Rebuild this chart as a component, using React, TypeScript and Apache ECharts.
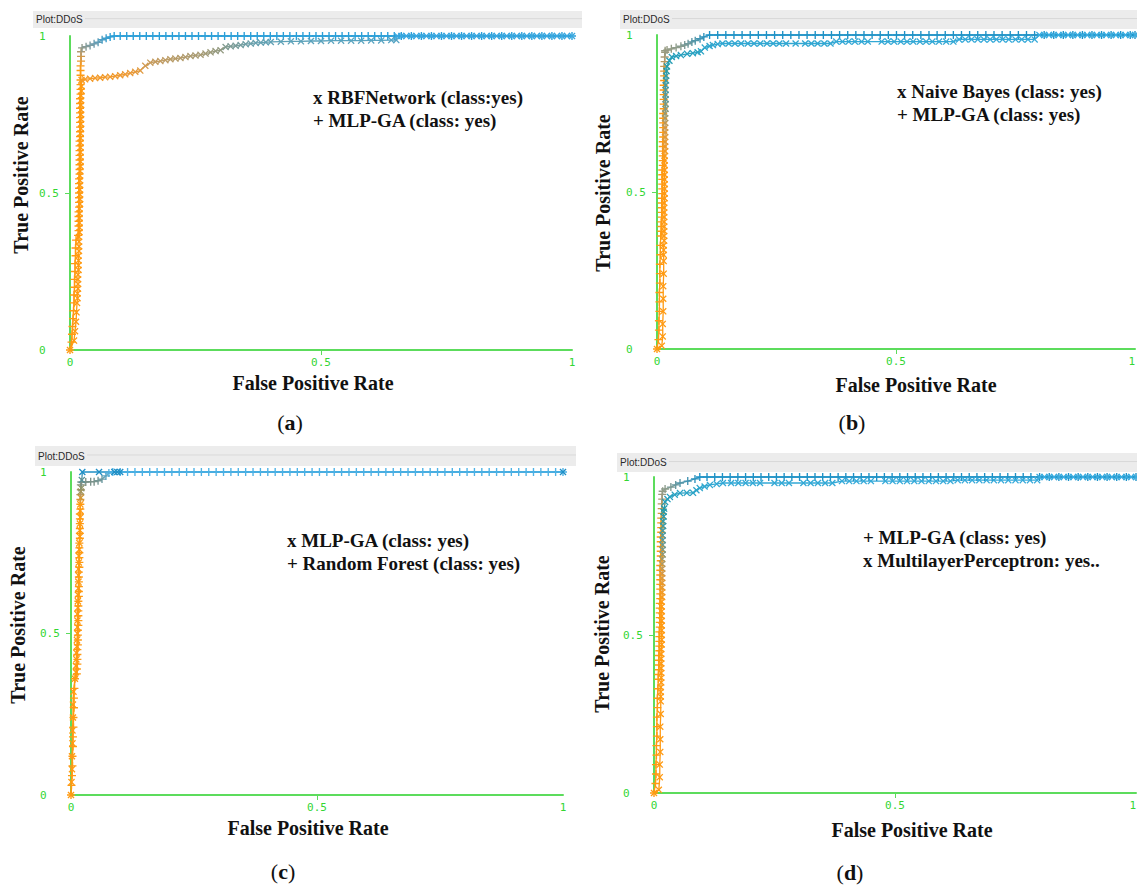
import React, { useEffect, useRef } from "react";
import * as echarts from "echarts";

type Pt = [number, number];

// ---------- data ----------
const AXIS_TICKS = [0, 0.5];
const PLOT_TITLE = "Plot:DDoS";
const X_TITLE = "False Positive Rate";
const Y_TITLE = "True Positive Rate";
const CAPTIONS = ["a", "b", "c", "d"];
const LEGENDS = [
  ["x RBFNetwork (class:yes)", "+ MLP-GA (class: yes)"],
  ["x Naive Bayes (class: yes)", "+ MLP-GA (class: yes)"],
  ["x MLP-GA (class: yes)", "+ Random Forest (class: yes)"],
  ["+ MLP-GA (class: yes)", "x MultilayerPerceptron: yes.."],
];

// (a) MLP-GA vs RBFNetwork
const aMlpGaRise: Pt[] = [
  [0, 0], [0.003, 0.025], [0.004, 0.05], [0.005, 0.075], [0.006, 0.1], [0.007, 0.125], [0.008, 0.15],
  [0.008, 0.175], [0.009, 0.2], [0.009, 0.225], [0.01, 0.25], [0.01, 0.275], [0.011, 0.3], [0.011, 0.325],
  [0.012, 0.35], [0.016, 0.365], [0.017, 0.38], [0.017, 0.395], [0.017, 0.41], [0.017, 0.425], [0.017, 0.44],
  [0.018, 0.455], [0.018, 0.47], [0.018, 0.485], [0.018, 0.5], [0.018, 0.515], [0.018, 0.53], [0.018, 0.545],
  [0.019, 0.56], [0.019, 0.575], [0.019, 0.59], [0.019, 0.605], [0.019, 0.62], [0.019, 0.635], [0.019, 0.65],
  [0.019, 0.665], [0.02, 0.68], [0.02, 0.695], [0.02, 0.71], [0.02, 0.725], [0.02, 0.74], [0.02, 0.755],
  [0.02, 0.77], [0.02, 0.785], [0.02, 0.8], [0.021, 0.815], [0.021, 0.83], [0.021, 0.845], [0.021, 0.86],
  [0.021, 0.875], [0.021, 0.89], [0.021, 0.905], [0.022, 0.92], [0.022, 0.935], [0.022, 0.95],
  [0.024, 0.962], [0.032, 0.966], [0.04, 0.97], [0.048, 0.975], [0.056, 0.98], [0.064, 0.988],
  [0.072, 0.993], [0.08, 0.997], [0.088, 1],
];
const aMlpGaTopFpr = [
  0.1, 0.113, 0.126, 0.139, 0.152, 0.165, 0.178, 0.191, 0.204, 0.217, 0.23, 0.243, 0.256, 0.269, 0.282,
  0.295, 0.308, 0.321, 0.334, 0.347, 0.36, 0.373, 0.386, 0.399, 0.412, 0.425, 0.438, 0.451, 0.464, 0.477,
  0.49, 0.503, 0.516, 0.529, 0.542, 0.555, 0.568, 0.581, 0.594, 0.607, 0.62, 0.633, 0.646, 0.66, 0.68, 0.7,
  0.72, 0.74, 0.76, 0.78, 0.8, 0.82, 0.84, 0.86, 0.88, 0.9, 0.92, 0.94, 0.96, 0.98, 1,
];
const aRbfRise: Pt[] = [
  [0, 0], [0.008, 0.03], [0.01, 0.06], [0.012, 0.09], [0.013, 0.12], [0.014, 0.15], [0.015, 0.165],
  [0.015, 0.18], [0.016, 0.195], [0.016, 0.21], [0.016, 0.225], [0.016, 0.24], [0.017, 0.255], [0.017, 0.27],
  [0.017, 0.285], [0.017, 0.3], [0.018, 0.315], [0.018, 0.33], [0.018, 0.345], [0.018, 0.36], [0.019, 0.375],
  [0.019, 0.39], [0.019, 0.405], [0.019, 0.42], [0.019, 0.435], [0.019, 0.45], [0.02, 0.465], [0.02, 0.48],
  [0.02, 0.495], [0.02, 0.51], [0.02, 0.525], [0.02, 0.54], [0.02, 0.555], [0.02, 0.57], [0.021, 0.585],
  [0.021, 0.6], [0.021, 0.615], [0.021, 0.63], [0.021, 0.645], [0.021, 0.66], [0.021, 0.675], [0.021, 0.69],
  [0.022, 0.705], [0.022, 0.72], [0.022, 0.735], [0.022, 0.75], [0.022, 0.765], [0.022, 0.78], [0.022, 0.795],
  [0.022, 0.81], [0.023, 0.825], [0.023, 0.84], [0.023, 0.86], [0.03, 0.862], [0.04, 0.864], [0.05, 0.866],
  [0.06, 0.867], [0.07, 0.869], [0.08, 0.87], [0.09, 0.872], [0.1, 0.875], [0.11, 0.878], [0.12, 0.882],
  [0.13, 0.886], [0.14, 0.89], [0.15, 0.905], [0.16, 0.915], [0.17, 0.918], [0.18, 0.92], [0.19, 0.923],
  [0.2, 0.926], [0.21, 0.928], [0.22, 0.93], [0.23, 0.933], [0.24, 0.936], [0.25, 0.938], [0.26, 0.94],
  [0.27, 0.944], [0.28, 0.948], [0.29, 0.952], [0.3, 0.955], [0.31, 0.965], [0.32, 0.967], [0.33, 0.969],
  [0.34, 0.971], [0.35, 0.974], [0.36, 0.976], [0.37, 0.978], [0.38, 0.979], [0.39, 0.98], [0.4, 0.981],
  [0.42, 0.982], [0.44, 0.983], [0.46, 0.983], [0.48, 0.984], [0.5, 0.984], [0.52, 0.985], [0.54, 0.985],
  [0.56, 0.985], [0.58, 0.985], [0.6, 0.986], [0.62, 0.986], [0.64, 0.987], [0.65, 0.987], [0.652, 1],
];
const aRbfTopFpr = [
  0.66, 0.67, 0.68, 0.69, 0.7, 0.71, 0.72, 0.73, 0.74, 0.75, 0.76, 0.77, 0.78, 0.79, 0.8, 0.81, 0.82, 0.83,
  0.84, 0.85, 0.86, 0.87, 0.88, 0.89, 0.9, 0.91, 0.92, 0.93, 0.94, 0.95, 0.96, 0.97, 0.98, 0.99, 1,
];

// (b) MLP-GA vs Naive Bayes
const bMlpGaRise: Pt[] = [
  [0, 0], [0.003, 0.03], [0.004, 0.06], [0.004, 0.09], [0.005, 0.12], [0.005, 0.15], [0.005, 0.18],
  [0.006, 0.21], [0.006, 0.24], [0.006, 0.27], [0.007, 0.3], [0.007, 0.33], [0.008, 0.36], [0.009, 0.375],
  [0.009, 0.39], [0.009, 0.405], [0.01, 0.42], [0.01, 0.435], [0.01, 0.45], [0.01, 0.465], [0.01, 0.48],
  [0.011, 0.495], [0.011, 0.51], [0.011, 0.525], [0.011, 0.54], [0.011, 0.555], [0.011, 0.57], [0.012, 0.585],
  [0.012, 0.6], [0.012, 0.615], [0.012, 0.63], [0.012, 0.645], [0.012, 0.66], [0.013, 0.675], [0.013, 0.69],
  [0.013, 0.705], [0.013, 0.72], [0.013, 0.735], [0.013, 0.75], [0.014, 0.765], [0.014, 0.78], [0.014, 0.795],
  [0.014, 0.81], [0.014, 0.825], [0.014, 0.84], [0.015, 0.855], [0.015, 0.87], [0.015, 0.885], [0.015, 0.9],
  [0.016, 0.915], [0.016, 0.93], [0.017, 0.945], [0.017, 0.95], [0.021, 0.952], [0.03, 0.956], [0.04, 0.96],
  [0.05, 0.964], [0.058, 0.968], [0.065, 0.972], [0.073, 0.978], [0.08, 0.982], [0.09, 0.988],
  [0.098, 0.994], [0.11, 1],
];
const bMlpGaTopFpr = [
  0.127, 0.144, 0.161, 0.178, 0.195, 0.212, 0.229, 0.246, 0.263, 0.28, 0.297, 0.314, 0.331, 0.348, 0.365,
  0.382, 0.399, 0.416, 0.433, 0.45, 0.467, 0.484, 0.501, 0.518, 0.535, 0.552, 0.569, 0.586, 0.603, 0.62,
  0.637, 0.654, 0.671, 0.688, 0.705, 0.722, 0.739, 0.756, 0.773, 0.79, 0.81, 0.83, 0.85, 0.87, 0.89, 0.91,
  0.93, 0.95, 0.97, 0.99, 1,
];
const bNaiveBayesRoc: Pt[] = [
  [0, 0], [0.01, 0.01], [0.012, 0.04], [0.012, 0.08], [0.013, 0.12], [0.013, 0.16], [0.013, 0.2],
  [0.014, 0.24], [0.014, 0.28], [0.014, 0.3], [0.014, 0.315], [0.014, 0.33], [0.015, 0.345], [0.015, 0.36],
  [0.015, 0.375], [0.015, 0.39], [0.015, 0.405], [0.015, 0.42], [0.015, 0.435], [0.015, 0.45], [0.015, 0.465],
  [0.016, 0.48], [0.016, 0.495], [0.016, 0.51], [0.016, 0.525], [0.016, 0.54], [0.016, 0.555], [0.016, 0.57],
  [0.016, 0.585], [0.016, 0.6], [0.016, 0.615], [0.017, 0.63], [0.017, 0.645], [0.017, 0.66], [0.017, 0.675],
  [0.017, 0.69], [0.017, 0.705], [0.017, 0.72], [0.017, 0.735], [0.017, 0.75], [0.018, 0.765], [0.018, 0.78],
  [0.018, 0.795], [0.018, 0.81], [0.018, 0.825], [0.018, 0.84], [0.019, 0.855], [0.019, 0.87], [0.02, 0.885],
  [0.021, 0.9], [0.026, 0.918], [0.031, 0.93], [0.04, 0.933], [0.05, 0.936], [0.063, 0.94], [0.075, 0.942],
  [0.085, 0.945], [0.092, 0.948], [0.1, 0.96], [0.11, 0.965], [0.117, 0.968], [0.127, 0.971], [0.137, 0.973],
  [0.15, 0.973], [0.163, 0.973], [0.176, 0.973], [0.19, 0.973], [0.203, 0.973], [0.216, 0.973],
  [0.23, 0.973], [0.243, 0.973], [0.256, 0.973], [0.27, 0.973], [0.29, 0.973], [0.31, 0.973],
  [0.323, 0.973], [0.336, 0.973], [0.35, 0.973], [0.363, 0.973], [0.375, 0.979], [0.388, 0.979],
  [0.401, 0.979], [0.414, 0.979], [0.428, 0.979], [0.441, 0.979], [0.47, 0.979], [0.483, 0.979],
  [0.496, 0.979], [0.51, 0.979], [0.523, 0.979], [0.536, 0.979], [0.55, 0.979], [0.563, 0.979],
  [0.576, 0.979], [0.59, 0.979], [0.605, 0.979], [0.62, 0.979], [0.632, 0.986], [0.645, 0.986],
  [0.658, 0.986], [0.671, 0.986], [0.684, 0.986], [0.697, 0.986], [0.71, 0.986], [0.723, 0.986],
  [0.736, 0.986], [0.75, 0.986], [0.763, 0.986], [0.776, 0.986], [0.79, 0.986], [0.8, 1], [0.81, 1],
  [0.82, 1], [0.83, 1], [0.84, 1], [0.85, 1], [0.86, 1], [0.87, 1], [0.88, 1], [0.89, 1], [0.9, 1],
  [0.91, 1], [0.92, 1], [0.93, 1], [0.94, 1], [0.95, 1], [0.96, 1], [0.97, 1], [0.98, 1], [0.99, 1], [1, 1],
];

// (c) Random Forest vs MLP-GA
const cRandomForestRise: Pt[] = [
  [0, 0], [0.001, 0.03], [0.002, 0.06], [0.003, 0.09], [0.003, 0.12], [0.004, 0.15], [0.004, 0.18],
  [0.005, 0.21], [0.005, 0.24], [0.006, 0.27], [0.006, 0.3], [0.007, 0.33], [0.008, 0.36], [0.012, 0.375],
  [0.012, 0.39], [0.013, 0.405], [0.013, 0.42], [0.013, 0.435], [0.013, 0.45], [0.014, 0.465], [0.014, 0.48],
  [0.014, 0.495], [0.014, 0.51], [0.015, 0.525], [0.015, 0.54], [0.015, 0.555], [0.015, 0.57], [0.015, 0.585],
  [0.015, 0.6], [0.016, 0.615], [0.016, 0.63], [0.016, 0.645], [0.016, 0.66], [0.016, 0.675], [0.016, 0.69],
  [0.017, 0.705], [0.017, 0.72], [0.017, 0.735], [0.017, 0.75], [0.017, 0.765], [0.017, 0.78], [0.018, 0.795],
  [0.018, 0.81], [0.018, 0.825], [0.018, 0.84], [0.018, 0.855], [0.018, 0.87], [0.019, 0.885], [0.019, 0.9],
  [0.019, 0.915], [0.019, 0.93], [0.02, 0.945], [0.02, 0.96], [0.021, 0.969], [0.03, 0.969], [0.04, 0.97],
  [0.047, 0.97], [0.055, 0.973], [0.063, 0.978], [0.071, 0.988], [0.077, 0.997], [0.085, 1],
];
const cRandomForestTopFpr = [
  0.1, 0.115, 0.13, 0.145, 0.16, 0.175, 0.19, 0.205, 0.22, 0.235, 0.25, 0.265, 0.28, 0.295, 0.31, 0.325,
  0.34, 0.355, 0.37, 0.385, 0.4, 0.415, 0.43, 0.445, 0.46, 0.475, 0.49, 0.505, 0.52, 0.535, 0.55, 0.565,
  0.58, 0.595, 0.61, 0.625, 0.64, 0.655, 0.67, 0.685, 0.7, 0.715, 0.73, 0.745, 0.76, 0.775, 0.79, 0.805,
  0.82, 0.835, 0.85, 0.865, 0.88, 0.895, 0.91, 0.925, 0.94, 0.955, 0.97, 0.985, 1,
];
const cMlpGaRoc: Pt[] = [
  [0, 0], [0.001, 0.04], [0.002, 0.08], [0.002, 0.12], [0.003, 0.16], [0.003, 0.2], [0.004, 0.24],
  [0.004, 0.28], [0.005, 0.32], [0.008, 0.36], [0.01, 0.38], [0.01, 0.4], [0.011, 0.42], [0.011, 0.44],
  [0.012, 0.46], [0.012, 0.48], [0.013, 0.5], [0.013, 0.52], [0.013, 0.54], [0.013, 0.56], [0.014, 0.58],
  [0.014, 0.6], [0.014, 0.62], [0.015, 0.64], [0.015, 0.66], [0.015, 0.68], [0.015, 0.7], [0.016, 0.72],
  [0.016, 0.74], [0.017, 0.76], [0.017, 0.78], [0.018, 0.8], [0.018, 0.82], [0.018, 0.84], [0.019, 0.86],
  [0.019, 0.88], [0.019, 0.9], [0.02, 0.92], [0.02, 0.94], [0.021, 0.95], [0.022, 0.975], [0.023, 1],
  [0.057, 1], [0.088, 1], [0.094, 1], [0.1, 1], [1, 1],
];

// (d) MLP-GA vs MultilayerPerceptron
const dMlpGaRise: Pt[] = [
  [0, 0], [0.003, 0.03], [0.004, 0.06], [0.004, 0.09], [0.005, 0.12], [0.005, 0.15], [0.006, 0.18],
  [0.006, 0.21], [0.006, 0.24], [0.007, 0.27], [0.007, 0.3], [0.008, 0.33], [0.009, 0.36], [0.009, 0.375],
  [0.01, 0.39], [0.01, 0.405], [0.01, 0.42], [0.01, 0.435], [0.011, 0.45], [0.011, 0.465], [0.011, 0.48],
  [0.011, 0.495], [0.011, 0.51], [0.012, 0.525], [0.012, 0.54], [0.012, 0.555], [0.012, 0.57], [0.012, 0.585],
  [0.012, 0.6], [0.013, 0.615], [0.013, 0.63], [0.013, 0.645], [0.013, 0.66], [0.013, 0.675], [0.013, 0.69],
  [0.013, 0.705], [0.013, 0.72], [0.014, 0.735], [0.014, 0.75], [0.014, 0.765], [0.014, 0.78], [0.014, 0.795],
  [0.014, 0.81], [0.015, 0.825], [0.015, 0.84], [0.015, 0.855], [0.015, 0.87], [0.016, 0.885], [0.016, 0.9],
  [0.016, 0.915], [0.017, 0.93], [0.017, 0.945], [0.018, 0.955], [0.023, 0.962], [0.035, 0.968],
  [0.045, 0.975], [0.054, 0.981], [0.07, 0.987], [0.085, 0.994], [0.095, 1],
];
const dMlpGaTopFpr = [
  0.11, 0.126, 0.142, 0.158, 0.174, 0.19, 0.206, 0.222, 0.238, 0.254, 0.27, 0.286, 0.302, 0.318, 0.334,
  0.35, 0.366, 0.382, 0.398, 0.414, 0.43, 0.446, 0.462, 0.478, 0.494, 0.51, 0.526, 0.542, 0.558, 0.574,
  0.59, 0.606, 0.622, 0.638, 0.654, 0.67, 0.686, 0.702, 0.718, 0.734, 0.75, 0.766, 0.782, 0.8, 0.82, 0.84,
  0.86, 0.88, 0.9, 0.92, 0.94, 0.96, 0.98, 1,
];
const dMultilayerPerceptronRoc: Pt[] = [
  [0, 0], [0.01, 0.01], [0.012, 0.05], [0.012, 0.09], [0.013, 0.13], [0.013, 0.17], [0.013, 0.21],
  [0.014, 0.25], [0.014, 0.29], [0.014, 0.305], [0.014, 0.32], [0.014, 0.335], [0.015, 0.35], [0.015, 0.365],
  [0.015, 0.38], [0.015, 0.395], [0.015, 0.41], [0.015, 0.425], [0.015, 0.44], [0.015, 0.455], [0.016, 0.47],
  [0.016, 0.485], [0.016, 0.5], [0.016, 0.515], [0.016, 0.53], [0.016, 0.545], [0.016, 0.56], [0.016, 0.575],
  [0.016, 0.59], [0.016, 0.605], [0.017, 0.62], [0.017, 0.635], [0.017, 0.65], [0.017, 0.665], [0.017, 0.68],
  [0.017, 0.695], [0.017, 0.71], [0.017, 0.725], [0.017, 0.74], [0.018, 0.755], [0.018, 0.77], [0.018, 0.785],
  [0.018, 0.8], [0.018, 0.815], [0.018, 0.83], [0.019, 0.845], [0.019, 0.86], [0.02, 0.875], [0.02, 0.89],
  [0.021, 0.9], [0.023, 0.921], [0.028, 0.93], [0.033, 0.937], [0.043, 0.944], [0.054, 0.949], [0.068, 0.95],
  [0.081, 0.95], [0.088, 0.958], [0.095, 0.965], [0.105, 0.97], [0.116, 0.975], [0.13, 0.978],
  [0.143, 0.981], [0.16, 0.981], [0.175, 0.981], [0.19, 0.981], [0.205, 0.981], [0.22, 0.981],
  [0.25, 0.981], [0.265, 0.981], [0.28, 0.981], [0.31, 0.981], [0.325, 0.981], [0.34, 0.981],
  [0.355, 0.981], [0.37, 0.981], [0.39, 0.987], [0.405, 0.987], [0.42, 0.987], [0.435, 0.987],
  [0.45, 0.987], [0.48, 0.987], [0.495, 0.987], [0.51, 0.987], [0.525, 0.987], [0.54, 0.987],
  [0.555, 0.987], [0.57, 0.987], [0.585, 0.987], [0.6, 0.987], [0.615, 0.987], [0.63, 0.99], [0.645, 0.99],
  [0.66, 0.99], [0.675, 0.99], [0.69, 0.99], [0.705, 0.99], [0.72, 0.99], [0.735, 0.99], [0.75, 0.99],
  [0.765, 0.99], [0.78, 0.99], [0.795, 0.99], [0.8, 1], [0.81, 1], [0.82, 1], [0.83, 1], [0.84, 1],
  [0.85, 1], [0.86, 1], [0.87, 1], [0.88, 1], [0.89, 1], [0.9, 1], [0.91, 1], [0.92, 1], [0.93, 1],
  [0.94, 1], [0.95, 1], [0.96, 1], [0.97, 1], [0.98, 1], [0.99, 1], [1, 1],
];

const withTop = (rise: Pt[], topFpr: number[], tpr: number): Pt[] => [
  ...rise,
  ...topFpr.map((f) => [f, tpr] as Pt),
];

// ---------- styles / layout ----------
const PLUS = "path://M4.15,0H5.85V4.15H10V5.85H5.85V10H4.15V5.85H0V4.15H4.15Z";
const CROSS = "path://M0,1.3L1.3,0L5,3.7L8.7,0L10,1.3L6.3,5L10,8.7L8.7,10L5,6.3L1.3,10L0,8.7L3.7,5Z";

const LAYOUT = [
  { grid: { left: 70, top: 36, width: 502, height: 314 }, header: [33, 11, 549, 17], yT: [21, 175], xT: [313, 383], cap: [290, 422], leg: [313, 97], alignMax: false },
  { grid: { left: 657, top: 35, width: 478, height: 314 }, header: [620, 10, 517, 19], yT: [603, 193], xT: [916, 385], cap: [852, 422], leg: [897, 91], alignMax: true },
  { grid: { left: 71, top: 472, width: 492, height: 323 }, header: [35, 446, 541, 20], yT: [18, 625], xT: [308, 828], cap: [283, 871], leg: [287, 540], alignMax: false },
  { grid: { left: 654, top: 477, width: 482, height: 316 }, header: [617, 453, 520, 19], yT: [602, 634], xT: [912, 830], cap: [850, 872], leg: [863, 537], alignMax: true },
];

const ORANGE = "#ff9a12";
const SERIES = [
  { name: "MLP-GA (a)", panel: 0, data: withTop(aMlpGaRise, aMlpGaTopFpr, 1), symbol: PLUS, size: 8, min: 0.9, max: 1, colors: [ORANGE, "#e39a3a", "#b39a6e", "#6f9cae", "#2a9fd8"] },
  { name: "RBFNetwork", panel: 0, data: withTop(aRbfRise, aRbfTopFpr, 1), symbol: CROSS, size: 7, min: 0.84, max: 1, colors: [ORANGE, "#ec9a36", "#c29c62", "#8c9a86", "#3aa8e0"] },
  { name: "MLP-GA (b)", panel: 1, data: withTop(bMlpGaRise, bMlpGaTopFpr, 1), symbol: PLUS, size: 8, min: 0.85, max: 1, colors: [ORANGE, "#d4983e", "#b09a70", "#8c9c8c", "#1f92c6"] },
  { name: "Naive Bayes", panel: 1, data: bNaiveBayesRoc, symbol: CROSS, size: 7, min: 0.6, max: 1, colors: [ORANGE, "#d0984a", "#5c9a9a", "#1f9aab", "#38ace0"] },
  { name: "Random Forest", panel: 2, data: withTop(cRandomForestRise, cRandomForestTopFpr, 1), symbol: PLUS, size: 8, min: 0.9, max: 1, colors: [ORANGE, "#b59565", "#7f8f80", "#4db2e6"] },
  { name: "MLP-GA (c)", panel: 2, data: cMlpGaRoc, symbol: CROSS, size: 7, min: 0.9, max: 1, colors: [ORANGE, "#1f8fc6"] },
  { name: "MLP-GA (d)", panel: 3, data: withTop(dMlpGaRise, dMlpGaTopFpr, 1), symbol: PLUS, size: 8, min: 0.85, max: 1, colors: [ORANGE, "#d4983e", "#b09a70", "#8c9c8c", "#1f92c6"] },
  { name: "MultilayerPerceptron", panel: 3, data: dMultilayerPerceptronRoc, symbol: CROSS, size: 7, min: 0.6, max: 1, colors: [ORANGE, "#d0984a", "#5c9a9a", "#1f9aab", "#38ace0"] },
];

const AXIS_GREEN = "#5cdc5c";
const LABEL_GREEN = "#33d633";
const MONO = '"DejaVu Sans Mono", monospace';
const SERIF = '"Liberation Serif", "Times New Roman", serif';

function buildOption() {
  const grid = LAYOUT.map((l) => ({ ...l.grid, outerBoundsMode: "none", containLabel: false }));
  const axisCommon = {
    type: "value" as const,
    min: 0,
    max: 1,
    interval: 0.5,
    splitLine: { show: false },
    axisLine: { show: true, onZero: false, lineStyle: { color: AXIS_GREEN, width: 2 } },
    axisTick: { show: true, customValues: [AXIS_TICKS[1]], length: 5, lineStyle: { color: AXIS_GREEN, width: 1 } },
  };
  const xAxis = LAYOUT.map((l, i) => ({
    ...axisCommon,
    gridIndex: i,
    axisLabel: { color: LABEL_GREEN, fontFamily: MONO, fontSize: 11, margin: 7, alignMaxLabel: l.alignMax ? "right" : undefined },
  }));
  const yAxis = LAYOUT.map((_, i) => ({
    ...axisCommon,
    gridIndex: i,
    axisLabel: { color: LABEL_GREEN, fontFamily: MONO, fontSize: 11, margin: 31, align: "left" },
  }));
  const series = SERIES.map((s) => ({
    type: "line",
    name: s.name,
    xAxisIndex: s.panel,
    yAxisIndex: s.panel,
    data: s.data,
    symbol: s.symbol,
    symbolSize: s.size,
    showSymbol: true,
    clip: false,
    lineStyle: { width: 1.3 },
    emphasis: { disabled: true },
  }));
  const visualMap = SERIES.map((s, i) => ({
    type: "continuous",
    show: false,
    seriesIndex: i,
    dimension: 1,
    min: s.min,
    max: s.max,
    inRange: { color: s.colors },
  }));

  const graphic: any[] = [];
  LAYOUT.forEach((l, i) => {
    const [hx, hy, hw, hh] = l.header;
    graphic.push({ type: "rect", silent: true, shape: { x: hx, y: hy, width: hw, height: hh }, style: { fill: "#ececec" } });
    graphic.push({ type: "line", silent: true, shape: { x1: hx + 52, y1: hy + hh * 0.45, x2: hx + hw, y2: hy + hh * 0.45 }, style: { stroke: "#d9d9d9", lineWidth: 1 } });
    graphic.push({ type: "text", silent: true, x: hx + 3, y: hy + hh / 2, style: { text: PLOT_TITLE, fill: "#2a2a2a", font: '10px "Liberation Sans", sans-serif', verticalAlign: "middle" } });
    graphic.push({ type: "text", silent: true, x: l.yT[0], y: l.yT[1], rotation: Math.PI / 2, style: { text: Y_TITLE, fill: "#111", font: `bold 20px ${SERIF}`, align: "center", verticalAlign: "middle" } });
    graphic.push({ type: "text", silent: true, x: l.xT[0], y: l.xT[1], style: { text: X_TITLE, fill: "#111", font: `bold 20px ${SERIF}`, align: "center", verticalAlign: "middle" } });
    graphic.push({
      type: "text", silent: true, x: l.cap[0], y: l.cap[1],
      style: {
        text: `{p|(}{b|${CAPTIONS[i]}}{p|)}`, fill: "#111", align: "center", verticalAlign: "middle",
        rich: { p: { font: `22px ${SERIF}`, fill: "#111" }, b: { font: `bold 22px ${SERIF}`, fill: "#111" } },
      },
    });
    LEGENDS[i].forEach((t, k) => {
      graphic.push({ type: "text", silent: true, x: l.leg[0], y: l.leg[1] + k * 23, style: { text: t, fill: "#111", font: `bold 19px ${SERIF}`, verticalAlign: "middle" } });
    });
  });

  return {
    animation: false,
    backgroundColor: "#ffffff",
    grid,
    xAxis,
    yAxis,
    visualMap,
    series,
    graphic,
  };
}

export default function App() {
  const ref = useRef<HTMLDivElement>(null);
  useEffect(() => {
    if (!ref.current) return;
    const chart = echarts.init(ref.current, undefined, { renderer: "svg" });
    chart.setOption(buildOption() as any);
    return () => chart.dispose();
  }, []);
  return (
    <div
      ref={ref}
      style={{ position: "fixed", left: 0, top: 0, width: 1137, height: 886, background: "#fff" }}
    />
  );
}
